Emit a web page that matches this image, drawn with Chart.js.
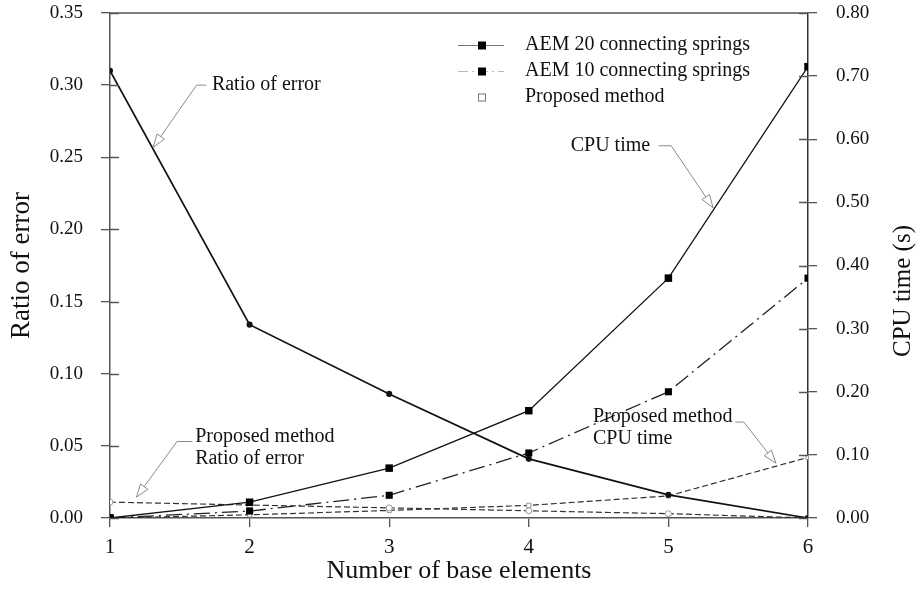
<!DOCTYPE html>
<html>
<head>
<meta charset="utf-8">
<script src="https://cdn.jsdelivr.net/npm/chart.js@4.4.1/dist/chart.umd.min.js"></script>
<style>
  html, body { margin: 0; padding: 0; background: #fff; }
  #wrap { width: 917px; height: 599px; position: relative; }
</style>
</head>
<body>
<div id="wrap"><canvas id="chart"></canvas></div>
<script>
// Number of base elements (x axis)
const elements = [1, 2, 3, 4, 5, 6];

// Ratio of error (left axis)
const errorAEM = [0.310, 0.134, 0.086, 0.041, 0.016, 0.000];
const errorProposed = [0.011, 0.009, 0.007, 0.005, 0.003, 0.000];

// CPU time in seconds (right axis)
const cpuAEM20 = [0.000, 0.025, 0.079, 0.170, 0.380, 0.715];
const cpuAEM10 = [0.000, 0.011, 0.036, 0.103, 0.200, 0.380];
const cpuProposed = [0.000, 0.005, 0.012, 0.020, 0.035, 0.096];

const legendLabels = ['AEM 20 connecting springs', 'AEM 10 connecting springs', 'Proposed method'];

// callout notes, positions given in (elements, ratio of error) units
const calloutText = [['Ratio of error'], ['CPU time'], ['Proposed method', 'Ratio of error'], ['Proposed method', 'CPU time']];
const calloutAt = [[1.73, 0.300], [4.30, 0.258], [1.61, 0.056], [4.46, 0.070]];
const calloutPath = [
    [[1.69, 0.300], [1.62, 0.300], [1.31, 0.257]],
    [[4.93, 0.258], [5.02, 0.258], [5.32, 0.215]],
    [[1.59, 0.053], [1.48, 0.053], [1.19, 0.0145]],
    [[5.48, 0.0665], [5.54, 0.0665], [5.77, 0.038]]
];

const SERIF = "'Liberation Serif', 'Times New Roman', serif";
const AXIS = '#555';

function pts(ys) {
    return elements.map((x, i) => ({ x: x, y: ys[i] }));
}

// draws the extra bits: inner ticks, frame top, legend, callouts, right title
const extras = {
    id: 'extras',
    afterDraw(chart) {
        const ctx = chart.ctx;
        const area = chart.chartArea;
        const sx = chart.scales.x, sy = chart.scales.y, sy1 = chart.scales.y1;
        ctx.save();

        // inward tick marks
        ctx.strokeStyle = AXIS;
        ctx.lineWidth = 1.3;
        ctx.beginPath();
        sy.ticks.forEach(t => {
            const p = Math.round(sy.getPixelForValue(t.value)) + 0.5;
            ctx.moveTo(area.left, p); ctx.lineTo(area.left + 9, p);
        });
        sy1.ticks.forEach(t => {
            const p = Math.round(sy1.getPixelForValue(t.value)) + 0.5;
            ctx.moveTo(area.right - 9, p); ctx.lineTo(area.right, p);
        });
        // top frame line
        ctx.moveTo(area.left, area.top); ctx.lineTo(area.right, area.top);
        ctx.stroke();

        // legend
        const lx = 482, rows = [45, 71, 97];
        ctx.font = '20px ' + SERIF;
        ctx.textBaseline = 'middle';
        ctx.textAlign = 'left';
        rows.forEach((ry, i) => {
            if (i < 2) {
                ctx.strokeStyle = i === 0 ? '#777' : '#bbb';
                ctx.lineWidth = 1;
                ctx.setLineDash(i === 0 ? [] : [10, 4, 2, 4]);
                ctx.beginPath();
                ctx.moveTo(458, ry + 0.5); ctx.lineTo(504, ry + 0.5);
                ctx.stroke();
                ctx.setLineDash([]);
                ctx.fillStyle = '#000';
                ctx.fillRect(lx - 4, ry - 3.5, 8, 8);
            } else {
                ctx.strokeStyle = '#777';
                ctx.lineWidth = 1;
                ctx.strokeRect(lx - 3.5, ry - 3, 7, 7);
            }
            ctx.fillStyle = '#111';
            ctx.fillText(legendLabels[i], 525, ry);
        });

        // callouts
        calloutText.forEach((lines, i) => {
            ctx.fillStyle = '#111';
            ctx.font = '20px ' + SERIF;
            const tx = sx.getPixelForValue(calloutAt[i][0]);
            lines.forEach((s, k) => {
                const ty = sy.getPixelForValue(calloutAt[i][1]) + k * 22;
                ctx.fillText(s, tx, ty);
            });
            const path = calloutPath[i].map(p => [sx.getPixelForValue(p[0]), sy.getPixelForValue(p[1])]);
            ctx.strokeStyle = '#8a8a8a';
            ctx.lineWidth = 1;
            ctx.beginPath();
            path.forEach((p, k) => k ? ctx.lineTo(p[0], p[1]) : ctx.moveTo(p[0], p[1]));
            ctx.stroke();
            // hollow arrow head
            const tip = path[path.length - 1], prev = path[path.length - 2];
            const ang = Math.atan2(tip[1] - prev[1], tip[0] - prev[0]);
            const len = 13, half = 4.5;
            const bx = tip[0] - len * Math.cos(ang), by = tip[1] - len * Math.sin(ang);
            ctx.beginPath();
            ctx.moveTo(tip[0], tip[1]);
            ctx.lineTo(bx + half * Math.sin(ang), by - half * Math.cos(ang));
            ctx.lineTo(bx - half * Math.sin(ang), by + half * Math.cos(ang));
            ctx.closePath();
            ctx.fillStyle = '#fff';
            ctx.fill();
            ctx.stroke();
        });

        // right axis title, reads bottom to top
        ctx.translate(903, 291);
        ctx.rotate(-Math.PI / 2);
        ctx.textAlign = 'center';
        ctx.fillStyle = '#111';
        ctx.font = '25px ' + SERIF;
        ctx.fillText('CPU time (s)', 0, 0);
        ctx.restore();
    }
};

new Chart(document.getElementById('chart'), {
    type: 'line',
    data: {
        datasets: [
            {
                label: 'Ratio of error (AEM)',
                data: pts(errorAEM),
                yAxisID: 'y',
                borderColor: '#111',
                borderWidth: 1.7,
                pointStyle: 'circle',
                pointRadius: 2.2,
                pointBackgroundColor: '#111',
                pointBorderColor: '#111'
            },
            {
                label: legendLabels[0],
                data: pts(cpuAEM20),
                yAxisID: 'y1',
                borderColor: '#111',
                borderWidth: 1.3,
                pointStyle: 'rect',
                pointRadius: 5.3,
                pointBackgroundColor: '#000',
                pointBorderColor: '#000',
                pointBorderWidth: 0
            },
            {
                label: legendLabels[1],
                data: pts(cpuAEM10),
                yAxisID: 'y1',
                borderColor: '#222',
                borderWidth: 1.3,
                borderDash: [16, 5, 2, 5],
                pointStyle: 'rect',
                pointRadius: 5,
                pointBackgroundColor: '#000',
                pointBorderColor: '#000',
                pointBorderWidth: 0
            },
            {
                label: 'Ratio of error (proposed)',
                data: pts(errorProposed),
                yAxisID: 'y',
                borderColor: '#333',
                borderWidth: 1.2,
                borderDash: [6, 3],
                pointStyle: 'circle',
                pointRadius: 3,
                pointBackgroundColor: '#fff',
                pointBorderColor: '#999',
                pointBorderWidth: 1
            },
            {
                label: 'CPU time (proposed)',
                data: pts(cpuProposed),
                yAxisID: 'y1',
                borderColor: '#333',
                borderWidth: 1.2,
                borderDash: [6, 3],
                pointStyle: 'rect',
                pointRadius: 3,
                pointBackgroundColor: '#fff',
                pointBorderColor: '#999',
                pointBorderWidth: 1
            }
        ]
    },
    options: {
        responsive: true,
        maintainAspectRatio: false,
        animation: false,
        layout: { padding: { top: 13, left: 0, right: 0, bottom: 0 } },
        plugins: {
            legend: { display: false },
            tooltip: { enabled: false }
        },
        scales: {
            x: {
                type: 'linear',
                min: 1,
                max: 6,
                ticks: { stepSize: 1, color: '#111', font: { family: SERIF, size: 21 }, padding: 8 },
                grid: { drawOnChartArea: false, color: AXIS, tickLength: 9, lineWidth: 1.3 },
                border: { color: AXIS, width: 1.5 },
                title: { display: true, text: 'Number of base elements', color: '#111',
                         font: { family: SERIF, size: 26 }, padding: { top: 0, bottom: 12 } },
                afterFit(s) { s.height = 81; s.paddingLeft = 0; s.paddingRight = 0; }
            },
            y: {
                position: 'left',
                min: 0,
                max: 0.35,
                ticks: { stepSize: 0.05, color: '#111', font: { family: SERIF, size: 19 }, padding: 18,
                         callback: v => v.toFixed(2) },
                grid: { drawOnChartArea: false, color: AXIS, tickLength: 9, lineWidth: 1.3 },
                border: { color: AXIS, width: 1.5 },
                title: { display: true, text: 'Ratio of error', color: '#111',
                         font: { family: SERIF, size: 27 }, padding: { top: 6, bottom: 0 } },
                afterFit(s) { s.width = 110; s.paddingTop = 0; s.paddingBottom = 0; }
            },
            y1: {
                position: 'right',
                min: 0,
                max: 0.8,
                ticks: { stepSize: 0.1, color: '#111', font: { family: SERIF, size: 19 }, padding: 19,
                         callback: v => v.toFixed(2) },
                grid: { drawOnChartArea: false, color: AXIS, tickLength: 9, lineWidth: 1.3 },
                border: { color: '#333', width: 1.5 },
                afterFit(s) { s.width = 109; s.paddingTop = 0; s.paddingBottom = 0; }
            }
        }
    },
    plugins: [extras]
});
</script>
</body>
</html>
